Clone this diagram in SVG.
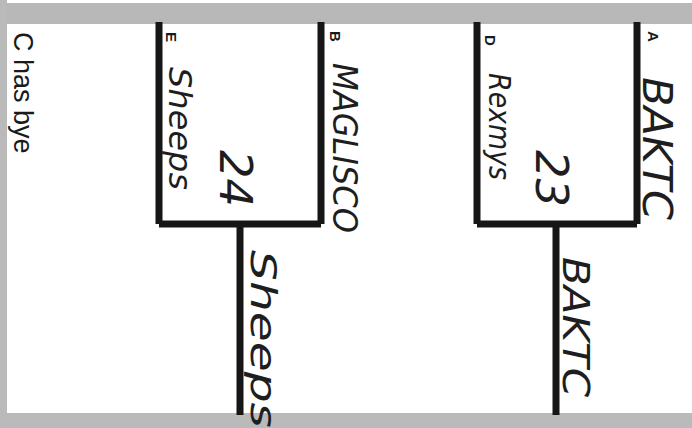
<svg xmlns="http://www.w3.org/2000/svg" width="692" height="428" viewBox="0 0 692 428">
<style>
.line{stroke:#161616;stroke-width:7;fill:none;stroke-linecap:butt}
.print{font-family:"Liberation Sans",Arial,sans-serif;fill:#1a1a1a}
.lbl{font-family:"Liberation Sans",Arial,sans-serif;fill:#1a1a1a;font-size:15px;font-weight:bold}
.hand{font-family:"DejaVu Sans",sans-serif;fill:#1e1e1e;font-style:italic}
</style>
<rect width="692" height="428" fill="#ffffff"/>
<rect x="0" y="3" width="692" height="21" fill="#b8b8b8"/>
<rect x="0" y="0" width="7" height="428" fill="#bababa"/>
<rect x="0" y="413" width="692" height="15" fill="#bababa"/>
<g id="connectors">
<path class="line" d="M159 22 V224 M321 22 V224 M159 224 H321 M240 224 V415"/>
<path class="line" d="M477 22 V224 M637 22 V224 M477 224 H637 M556 224 V415"/>
</g>
<g id="bye">
<text class="print" font-size="27" transform="translate(14,32) rotate(90)">C has bye</text>
</g>
<g id="E">
<text class="lbl" transform="translate(166,32) rotate(90)">E</text>
<text class="hand" font-size="32" textLength="123" lengthAdjust="spacingAndGlyphs" transform="translate(169,67) rotate(90)">Sheeps</text>
</g>
<g id="B">
<text class="lbl" transform="translate(330,31) rotate(90)">B</text>
<text class="hand" font-size="34" textLength="170" lengthAdjust="spacingAndGlyphs" transform="translate(333,63) rotate(90)">MAGLISCO</text>
</g>
<g id="match24">
<text class="hand" font-size="44" textLength="57" lengthAdjust="spacingAndGlyphs" transform="translate(220,150) rotate(90)">24</text>
</g>
<g id="D">
<text class="lbl" transform="translate(485,35) rotate(90)">D</text>
<text class="hand" font-size="30" textLength="107" lengthAdjust="spacingAndGlyphs" transform="translate(489,73) rotate(90)">Rexmys</text>
</g>
<g id="A">
<text class="lbl" transform="translate(648,31) rotate(90)">A</text>
<text class="hand" font-size="40" textLength="143" lengthAdjust="spacingAndGlyphs" transform="translate(643,77) rotate(90)">BAKTC</text>
</g>
<g id="match23">
<text class="hand" font-size="44" textLength="57" lengthAdjust="spacingAndGlyphs" transform="translate(536,150) rotate(90)">23</text>
</g>
<g id="winner24">
<text class="hand" font-size="36" textLength="178" lengthAdjust="spacingAndGlyphs" transform="translate(251,250) rotate(90)">Sheeps</text>
</g>
<g id="winner23">
<text class="hand" font-size="38" textLength="140" lengthAdjust="spacingAndGlyphs" transform="translate(563,257) rotate(90)">BAKTC</text>
</g>
</svg>
